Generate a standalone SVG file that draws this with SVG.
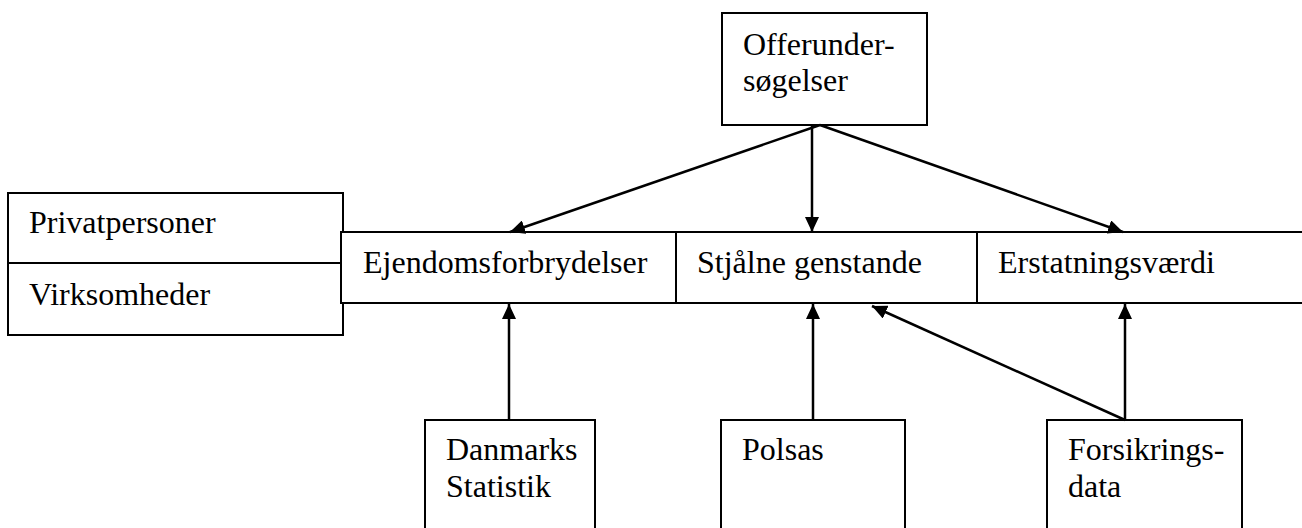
<svg xmlns="http://www.w3.org/2000/svg" width="1302" height="528" viewBox="0 0 1302 528">
<style>
.box{fill:#fff;stroke:#000;stroke-width:2}
.t{font-family:"Liberation Serif","Times New Roman",serif;font-size:32px;fill:#000}
.c{stroke:#000;stroke-width:2.5;fill:none;marker-end:url(#ah)}
</style>
<defs>
<marker id="ah" viewBox="0 0 15 14" refX="15" refY="7" markerWidth="15" markerHeight="14" markerUnits="userSpaceOnUse" orient="auto">
<path d="M0,0 L15,7 L0,14 z" fill="#000"/>
</marker>
</defs>
<rect width="1302" height="528" fill="#fff"/>
<g id="offerundersoegelser">
<rect class="box" x="722" y="13" width="205" height="112"/>
<text class="t" x="743" y="55">Offerunder-</text>
<text class="t" x="743" y="91">søgelser</text>
</g>
<g id="privatpersoner">
<rect class="box" x="8" y="193" width="335" height="70"/>
<text class="t" x="29" y="233">Privatpersoner</text>
</g>
<g id="virksomheder">
<rect class="box" x="8" y="263" width="335" height="72"/>
<text class="t" x="29" y="305">Virksomheder</text>
</g>
<g id="ejendomsforbrydelser">
<rect class="box" x="341" y="232" width="335" height="71"/>
<text class="t" x="363" y="273">Ejendomsforbrydelser</text>
</g>
<g id="stjaalne">
<rect class="box" x="676" y="232" width="301" height="71"/>
<text class="t" x="697" y="273">Stjålne genstande</text>
</g>
<g id="erstatningsvaerdi">
<rect class="box" x="977" y="232" width="340" height="71"/>
<text class="t" x="998" y="273">Erstatningsværdi</text>
</g>
<g id="danmarks-statistik">
<rect class="box" x="425" y="420" width="170" height="120"/>
<text class="t" x="446" y="460">Danmarks</text>
<text class="t" x="446" y="497">Statistik</text>
</g>
<g id="polsas">
<rect class="box" x="721" y="420" width="184" height="120"/>
<text class="t" x="742" y="460">Polsas</text>
</g>
<g id="forsikringsdata">
<rect class="box" x="1047" y="420" width="195" height="120"/>
<text class="t" x="1068" y="460">Forsikrings-</text>
<text class="t" x="1068" y="497">data</text>
</g>
<g id="connectors">
<line class="c" x1="820" y1="125" x2="510" y2="232"/>
<line class="c" x1="812" y1="125" x2="812" y2="232"/>
<line class="c" x1="820" y1="125" x2="1123" y2="232"/>
<line class="c" x1="509" y1="420" x2="509" y2="304"/>
<line class="c" x1="813" y1="420" x2="813" y2="304"/>
<line class="c" x1="1125" y1="420" x2="1125" y2="304"/>
<line class="c" x1="1125" y1="420" x2="872" y2="306"/>
</g>
</svg>
